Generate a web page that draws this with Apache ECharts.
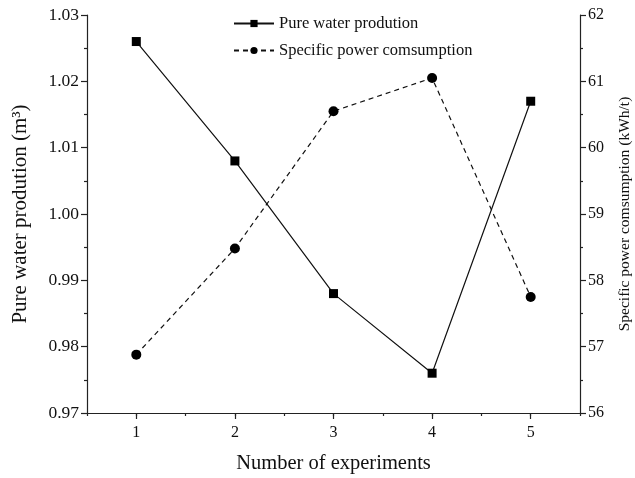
<!DOCTYPE html>
<html>
<head>
<meta charset="utf-8">
<script src="https://cdn.jsdelivr.net/npm/echarts@6/dist/echarts.min.js"></script>
<style>
  html, body { margin: 0; padding: 0; background: #fff; }
  #chart { width: 635px; height: 478px; }
</style>
</head>
<body>
<div id="chart"></div>
<script>
// Experiment runs
var experiments = [1, 2, 3, 4, 5];
// Pure water production per run (m3)
var waterProduction = [1.026, 1.008, 0.988, 0.976, 1.017];
// Specific power consumption per run (kWh/t)
var powerConsumption = [56.88, 58.48, 60.55, 61.05, 57.75];

var font = '"Liberation Serif", "Times New Roman", serif';
var axisColor = '#222';

function pairs(xs, ys) {
  return xs.map(function (x, i) { return [x, ys[i]]; });
}

var chart = echarts.init(document.getElementById('chart'), null, { renderer: 'canvas' });

chart.setOption({
  backgroundColor: '#fff',
  animation: false,
  textStyle: { fontFamily: font, color: '#111' },
  grid: { left: 87, right: 55, top: 15, bottom: 65, containLabel: false, outerBoundsMode: 'none' },
  legend: {
    orient: 'vertical',
    left: 228,
    top: 10,
    itemGap: 10,
    itemWidth: 40,
    itemHeight: 9,
    textStyle: { fontFamily: font, fontSize: 16.5, color: '#111' },
    data: ['Pure water prodution', 'Specific power comsumption']
  },
  xAxis: [
    {
      type: 'value',
      min: 0.5,
      max: 5.5,
      interval: 0.5,
      name: 'Number of experiments',
      nameLocation: 'middle',
      nameGap: 40,
      nameTextStyle: { fontFamily: font, fontSize: 20.5, color: '#111' },
      axisLine: { show: true, lineStyle: { color: axisColor, width: 1.2 } },
      axisTick: { show: true, inside: false, length: 3, lineStyle: { color: axisColor, width: 1.2 } },
      axisLabel: {
        fontFamily: font, fontSize: 16, color: '#111', margin: 12,
        customValues: experiments
      },
      splitLine: { show: false }
    },
    {
      type: 'value',
      min: 0.5,
      max: 5.5,
      position: 'bottom',
      axisLine: { show: false },
      axisTick: { show: true, length: 6, customValues: experiments, lineStyle: { color: axisColor, width: 1.2 } },
      axisLabel: { show: false },
      splitLine: { show: false }
    }
  ],
  yAxis: [
    {
      type: 'value',
      min: 0.97,
      max: 1.03,
      interval: 0.01,
      name: 'Pure water prodution (m³)',
      nameLocation: 'middle',
      nameGap: 56,
      nameTextStyle: { fontFamily: font, fontSize: 21, color: '#111' },
      axisLine: { show: true, lineStyle: { color: axisColor, width: 1.2 } },
      axisTick: { show: true, length: 6, lineStyle: { color: axisColor, width: 1.2 } },
      minorTick: { show: true, splitNumber: 2, length: 3, lineStyle: { color: axisColor, width: 1.2 } },
      axisLabel: {
        fontFamily: font, fontSize: 17.5, color: '#111', margin: 8,
        formatter: function (v) { return v.toFixed(2); }
      },
      splitLine: { show: false },
      minorSplitLine: { show: false }
    },
    {
      type: 'value',
      min: 56,
      max: 62,
      interval: 1,
      position: 'right',
      name: 'Specific power comsumption (kWh/t)',
      nameLocation: 'middle',
      nameGap: 37,
      nameRotate: 90,
      nameTextStyle: { fontFamily: font, fontSize: 15.5, color: '#111' },
      axisLine: { show: true, lineStyle: { color: axisColor, width: 1.2 } },
      axisTick: { show: true, length: 6, lineStyle: { color: axisColor, width: 1.2 } },
      minorTick: { show: true, splitNumber: 2, length: 3, lineStyle: { color: axisColor, width: 1.2 } },
      axisLabel: { fontFamily: font, fontSize: 16, color: '#111', margin: 8 },
      splitLine: { show: false },
      minorSplitLine: { show: false }
    }
  ],
  series: [
    {
      name: 'Pure water prodution',
      type: 'line',
      xAxisIndex: 0,
      yAxisIndex: 0,
      data: pairs(experiments, waterProduction),
      symbol: 'rect',
      symbolSize: 9,
      lineStyle: { color: '#111', width: 1.2, type: 'solid' },
      itemStyle: { color: '#000' }
    },
    {
      name: 'Specific power comsumption',
      type: 'line',
      xAxisIndex: 0,
      yAxisIndex: 1,
      data: pairs(experiments, powerConsumption),
      symbol: 'circle',
      symbolSize: 10,
      lineStyle: { color: '#111', width: 1.2, type: [5, 4] },
      itemStyle: { color: '#000' }
    }
  ]
});
</script>
</body>
</html>
